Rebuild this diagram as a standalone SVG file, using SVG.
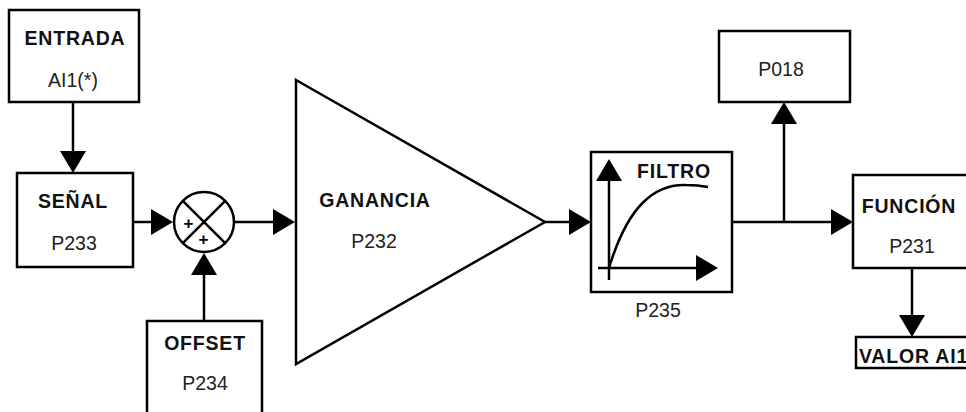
<svg xmlns="http://www.w3.org/2000/svg" width="966" height="412" viewBox="0 0 966 412">
<defs>
<marker id="ah" markerUnits="userSpaceOnUse" markerWidth="22" markerHeight="26" refX="0" refY="13" orient="auto">
<path d="M0,0 L22,13 L0,26 z" fill="#000"/>
</marker>
<style>
.box{fill:#fff;stroke:#000;stroke-width:2.5}
.ln{fill:none;stroke:#000;stroke-width:2.5}
.con{fill:none;stroke:#000;stroke-width:2.5;marker-end:url(#ah)}
.b{font-family:"Liberation Sans",Arial,Helvetica,sans-serif;font-weight:bold;font-size:19.5px;letter-spacing:0.8px;fill:#111;text-anchor:middle}
.r{font-family:"Liberation Sans",Arial,Helvetica,sans-serif;font-size:19.5px;fill:#222;text-anchor:middle}
.p{font-family:"Liberation Sans",Arial,Helvetica,sans-serif;font-weight:bold;font-size:17px;fill:#000;text-anchor:middle}
</style>
</defs>
<rect width="966" height="412" fill="#fff"/>
<g id="connectors">
<line class="con" x1="73" y1="102" x2="73" y2="151"/>
<line class="con" x1="133" y1="222" x2="151" y2="222"/>
<line class="con" x1="234" y1="222" x2="273" y2="222"/>
<line class="con" x1="204" y1="321" x2="204" y2="275"/>
<line class="con" x1="545" y1="222" x2="569" y2="222"/>
<line class="con" x1="732" y1="222" x2="831" y2="222"/>
<line class="con" x1="784" y1="222" x2="784" y2="124"/>
<line class="con" x1="912" y1="268" x2="912" y2="315"/>
</g>
<g id="entrada">
<rect class="box" x="9" y="10" width="130" height="92"/>
<text class="b" x="75" y="45">ENTRADA</text>
<text class="r" x="73" y="87">AI1(*)</text>
</g>
<g id="senal">
<rect class="box" x="17" y="173" width="116" height="94"/>
<text class="b" x="73" y="208">SEÑAL</text>
<text class="r" x="74" y="250">P233</text>
</g>
<g id="sumador">
<circle class="box" cx="204" cy="222" r="30"/>
<line class="ln" x1="182.8" y1="200.8" x2="225.2" y2="243.2"/>
<line class="ln" x1="182.8" y1="243.2" x2="225.2" y2="200.8"/>
<text class="p" x="188.5" y="229">+</text>
<text class="p" x="203.5" y="245">+</text>
</g>
<g id="offset">
<rect class="box" x="147" y="321" width="115" height="100"/>
<text class="b" x="205" y="350">OFFSET</text>
<text class="r" x="205" y="390">P234</text>
</g>
<g id="ganancia">
<polygon class="box" points="296,80 545,222 296,364"/>
<text class="b" x="375" y="207">GANANCIA</text>
<text class="r" x="374" y="248">P232</text>
</g>
<g id="filtro">
<rect class="box" x="591" y="152" width="141" height="140"/>
<line class="con" x1="609" y1="280" x2="609" y2="181"/>
<line class="con" x1="598" y1="268" x2="696" y2="268"/>
<path class="ln" d="M609,268 C628,205 655,184 686,185 C697,185 703,186 708,187"/>
<text class="b" x="674" y="178">FILTRO</text>
<text class="r" x="658" y="317">P235</text>
</g>
<g id="p018">
<rect class="box" x="719" y="31" width="131" height="71"/>
<text class="r" x="781" y="76">P018</text>
</g>
<g id="funcion">
<rect class="box" x="853" y="175" width="120" height="93"/>
<text class="b" x="909" y="213">FUNCIÓN</text>
<text class="r" x="912" y="253">P231</text>
</g>
<g id="valor">
<rect class="box" x="856" y="337" width="117" height="31"/>
<text class="b" x="859" y="363" style="text-anchor:start">VALOR AI1</text>
</g>
</svg>
